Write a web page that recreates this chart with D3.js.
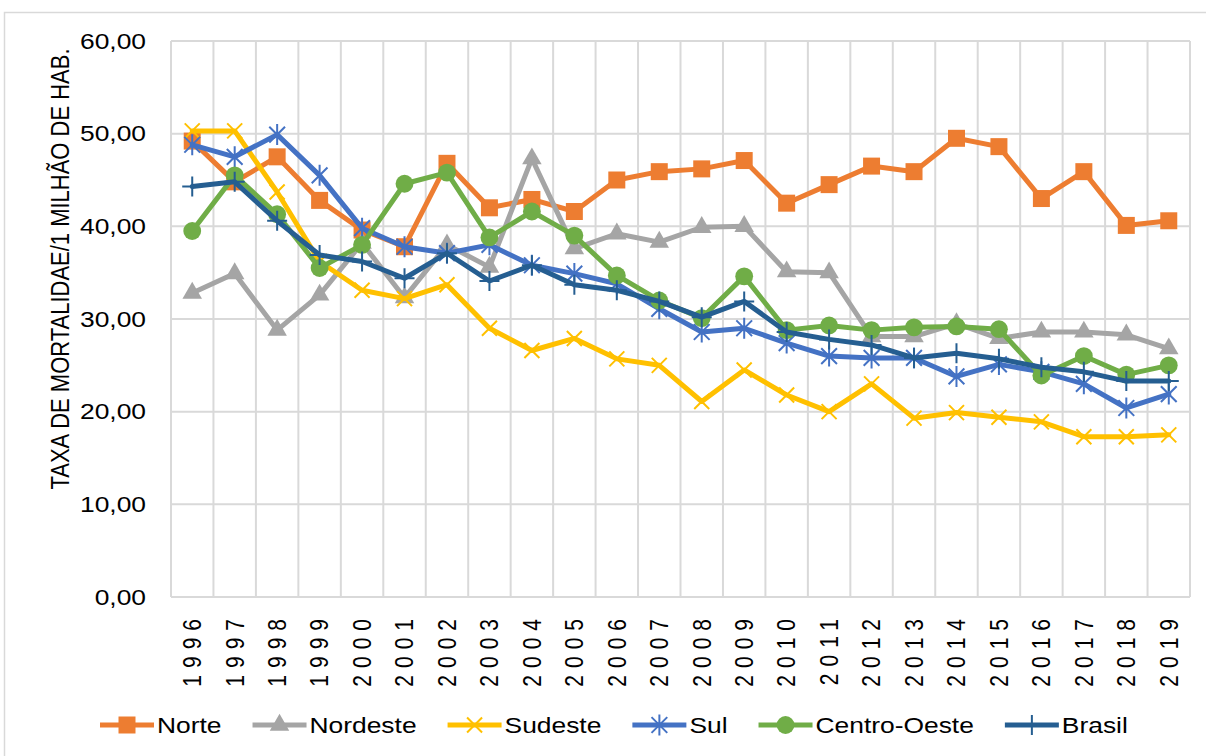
<!DOCTYPE html>
<html>
<head>
<meta charset="utf-8">
<script src="https://cdn.jsdelivr.net/npm/d3@7"></script>
<style>
  body { margin: 0; background: #fff; }
  text { font-family: "Liberation Sans", Arial, sans-serif; fill: #000; }
</style>
</head>
<body>
<svg id="chart" width="1206" height="756"></svg>
<script>
var years = [1996,1997,1998,1999,2000,2001,2002,2003,2004,2005,2006,2007,2008,2009,2010,2011,2012,2013,2014,2015,2016,2017,2018,2019];
var norte       = [49.2,44.8,47.5,42.8,39.6,37.8,46.8,42.0,42.9,41.6,45.0,45.9,46.2,47.1,42.5,44.5,46.5,45.9,49.5,48.6,43.0,45.9,40.1,40.6];
var nordeste    = [32.8,34.9,28.8,32.6,38.2,32.3,38.0,35.6,47.3,37.6,39.2,38.3,39.9,40.0,35.1,35.0,28.1,28.1,29.5,27.9,28.6,28.6,28.3,26.8];
var sudeste     = [50.3,50.3,43.7,36.2,33.1,32.2,33.7,29.0,26.6,27.9,25.7,25.0,21.1,24.5,21.8,20.0,23.0,19.3,19.9,19.4,18.9,17.3,17.3,17.5];
var sul         = [48.8,47.5,49.9,45.5,39.8,37.8,37.1,38.0,35.8,34.9,33.8,31.1,28.6,29.0,27.4,26.0,25.8,25.8,23.8,25.1,24.3,23.0,20.4,21.9];
var centroOeste = [39.5,45.5,41.3,35.5,38.0,44.6,45.8,38.8,41.6,39.0,34.7,32.0,30.1,34.6,28.8,29.3,28.8,29.1,29.2,28.9,23.9,26.0,24.0,25.0];
var brasil      = [44.3,44.8,40.6,36.9,36.2,34.4,37.1,34.1,35.8,33.7,33.1,31.9,30.2,31.9,28.6,27.8,27.2,25.8,26.3,25.7,24.8,24.3,23.3,23.3];
var seriesNames = ["Norte","Nordeste","Sudeste","Sul","Centro-Oeste","Brasil"];
var yTicks = [0,10,20,30,40,50,60];
var yTitle = "TAXA DE MORTALIDAE/1 MILHÃO DE HAB.";

// excel-like marker shapes
var starSym = { draw: function(ctx, size) {
  var r = Math.sqrt(size) / 2, d = r * 0.75;
  ctx.moveTo(-d, -d); ctx.lineTo(d, d);
  ctx.moveTo(-d, d); ctx.lineTo(d, -d);
  ctx.moveTo(0, -r); ctx.lineTo(0, r);
}};
var timesSym = { draw: function(ctx, size) {
  var r = Math.sqrt(size) / 2;
  ctx.moveTo(-r, -r); ctx.lineTo(r, r);
  ctx.moveTo(-r, r); ctx.lineTo(r, -r);
}};
var plusSym = { draw: function(ctx, size) {
  var r = Math.sqrt(size) / 2;
  ctx.moveTo(-r, 0); ctx.lineTo(r, 0);
  ctx.moveTo(0, -r); ctx.lineTo(0, r);
}};

var series = [
  { name: seriesNames[0], values: norte,       color: "#ed7d31", type: d3.symbolSquare,   size: 289, fill: true },
  { name: seriesNames[1], values: nordeste,    color: "#a5a5a5", type: d3.symbolTriangle, size: 165, fill: true },
  { name: seriesNames[2], values: sudeste,     color: "#ffc000", type: timesSym,          size: 225, fill: false },
  { name: seriesNames[3], values: sul,         color: "#4472c4", type: starSym,           size: 441, fill: false },
  { name: seriesNames[4], values: centroOeste, color: "#70ad47", type: d3.symbolCircle,   size: 250, fill: true },
  { name: seriesNames[5], values: brasil,      color: "#255e91", type: plusSym,           size: 400, fill: false }
];

var svg = d3.select("#chart");
var sx = 1.2; // text looks stretched sideways in the picture

// chart frame
svg.append("rect").attr("x", 4.5).attr("y", 12.5).attr("width", 1300).attr("height", 900)
  .attr("fill", "#fff").attr("stroke", "#d9d9d9").attr("stroke-width", 1.5);

var plotL = 171, plotR = 1190, plotT = 41, plotB = 597;

var x = d3.scaleBand().domain(years).range([plotL, plotR]).padding(0);
var y = d3.scaleLinear().domain([0, 60]).range([plotB, plotT]);
var cx = function(i) { return x(years[i]) + x.bandwidth() / 2; };

var ptBR = d3.formatLocale({ decimal: ",", thousands: ".", grouping: [3], currency: ["R$", ""] });
var fmt = ptBR.format(".2f");

// horizontal grid
svg.append("g").selectAll("line").data(yTicks).enter().append("line")
  .attr("x1", plotL).attr("x2", plotR)
  .attr("y1", function(d) { return y(d); }).attr("y2", function(d) { return y(d); })
  .attr("stroke", "#d9d9d9").attr("stroke-width", 2);

// vertical grid at category edges
var edges = years.map(function(d) { return x(d); }).concat([plotR]);
svg.append("g").selectAll("line").data(edges).enter().append("line")
  .attr("x1", function(d) { return d; }).attr("x2", function(d) { return d; })
  .attr("y1", plotT).attr("y2", plotB)
  .attr("stroke", "#d9d9d9").attr("stroke-width", 2);

// y tick labels
svg.append("g").selectAll("g").data(yTicks).enter().append("g")
  .attr("transform", function(d) { return "translate(146," + y(d) + ") scale(" + sx + ",1)"; })
  .append("text").attr("text-anchor", "end").attr("dy", "0.35em")
  .style("font-size", "22px").text(function(d) { return fmt(d); });

// y title
svg.append("g").attr("transform", "translate(60,269) scale(" + sx + ",1) rotate(-90)")
  .append("text").attr("text-anchor", "middle").attr("dy", "0.35em")
  .style("font-size", "22px").text(yTitle);

// x tick labels (rotated)
svg.append("g").selectAll("g").data(years).enter().append("g")
  .attr("transform", function(d, i) { return "translate(" + cx(i) + ",612) scale(" + sx + ",1) rotate(-90)"; })
  .append("text").attr("text-anchor", "end").attr("dy", "0.35em")
  .style("font-size", "21px").style("letter-spacing", "7px")
  .text(function(d) { return d; });

// lines and markers
var line = d3.line().x(function(d, i) { return cx(i); }).y(function(d) { return y(d); });

series.forEach(function(s) {
  var g = svg.append("g");
  g.append("path").attr("d", line(s.values))
    .attr("fill", "none").attr("stroke", s.color).attr("stroke-width", 5)
    .attr("stroke-linejoin", "round").attr("stroke-linecap", "round");
  g.selectAll("path.mk").data(s.values).enter().append("path").attr("class", "mk")
    .attr("transform", function(d, i) { return "translate(" + cx(i) + "," + y(d) + ")"; })
    .attr("d", d3.symbol().type(s.type).size(s.size))
    .attr("fill", s.fill ? s.color : "none")
    .attr("stroke", s.color).attr("stroke-width", s.fill ? 0 : 2);
});

// legend
var legend = svg.append("g").attr("transform", "translate(0,725)");
var lx = 100;
series.forEach(function(s) {
  var item = legend.append("g").attr("transform", "translate(" + lx + ",0)");
  item.append("line").attr("x1", 0).attr("x2", 54).attr("y1", 0).attr("y2", 0)
    .attr("stroke", s.color).attr("stroke-width", 5);
  item.append("path").attr("transform", "translate(27,0)")
    .attr("d", d3.symbol().type(s.type).size(s.size))
    .attr("fill", s.fill ? s.color : "none")
    .attr("stroke", s.color).attr("stroke-width", s.fill ? 0 : 2);
  var t = item.append("g").attr("transform", "translate(57,0) scale(" + sx + ",1)")
    .append("text").attr("dy", "0.35em").style("font-size", "22px").text(s.name);
  lx += 57 + t.node().getComputedTextLength() * sx + 31;
});
</script>
</body>
</html>
